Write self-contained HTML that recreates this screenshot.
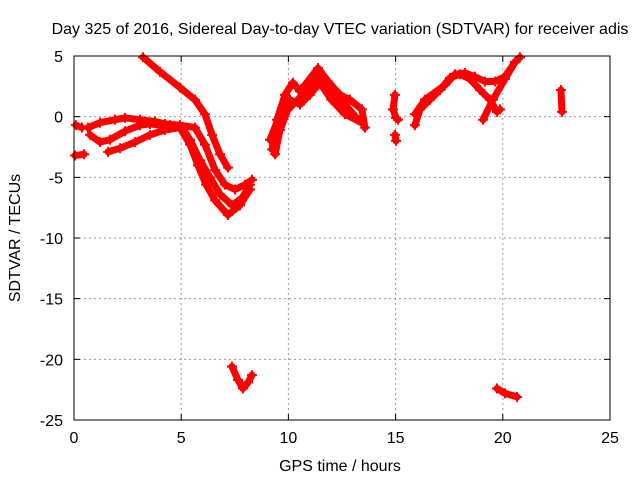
<!DOCTYPE html>
<html><head><meta charset="utf-8"><style>
body{margin:0;background:#fff}
svg{font-family:"Liberation Sans",Arial,sans-serif;font-size:16px}
</style></head><body>
<svg width="640" height="480">
<rect width="640" height="480" fill="#fff"/>
<text x="340" y="34" text-anchor="middle">Day 325 of 2016, Sidereal Day-to-day VTEC variation (SDTVAR) for receiver adis</text>
<text x="340" y="471" text-anchor="middle">GPS time / hours</text>
<text transform="translate(20,238) rotate(-90)" text-anchor="middle">SDTVAR / TECUs</text>
<g id="grid"></g>
<g id="ticks"></g>
<g id="series"></g>
<rect x="74" y="56" width="536" height="364" fill="none" stroke="#000" stroke-width="1"/>
</svg>
<script>
const xTicks=[0,5,10,15,20,25];
const yTicks=[5,0,-5,-10,-15,-20,-25];
const trackA=[[3.22,4.9],[4.01,3.7],[4.94,2.4],[5.64,1.4],[6.11,0.2],[6.44,-1.5],[6.81,-3.1],[7.18,-4.2]];
const trackB1=[[0.65,-0.9],[1.21,-0.5],[1.91,-0.25],[2.38,-0.1],[3.08,-0.25],[3.78,-0.4],[4.24,-0.6],[4.94,-0.7],[5.64,-0.9],[6.11,-2.3],[6.58,-4.4],[7.04,-5.6],[7.51,-6.0],[7.98,-5.6],[8.3,-5.2]];
const trackB2=[[0.75,-1.5],[1.21,-2.1],[1.68,-1.9],[2.38,-1.2],[3.08,-0.7],[3.54,-0.6],[4.01,-0.7],[4.48,-0.7],[5.04,-0.9],[5.41,-1.9],[5.88,-3.6],[6.34,-5.0],[6.81,-6.4],[7.37,-7.3],[7.84,-6.7],[8.21,-5.6]];
const trackB3=[[1.59,-2.9],[2.15,-2.6],[2.85,-2.1],[3.54,-1.5],[4.24,-1.1],[4.94,-0.9],[5.41,-2.3],[5.78,-4.0],[6.16,-5.6],[6.58,-6.9],[7.18,-8.1],[7.74,-7.3],[8.21,-6.0]];
const trackC=[[0.09,-0.7],[0.37,-0.9]];
const trackD=[[0.05,-3.2],[0.47,-3.1]];
const trackE=[[7.37,-20.6],[7.65,-21.7],[7.88,-22.4],[8.12,-21.9],[8.3,-21.3]];
const trackM1=[[9.24,-2.7],[9.47,-0.25],[9.84,1.8],[10.21,2.8],[10.54,2.1],[10.77,2.6],[11.38,4.0],[11.85,2.9],[12.41,1.8],[12.87,1.4],[13.43,0.6],[13.57,-0.9]];
const trackM2=[[9.38,-3.1],[9.61,-1.1],[9.98,0.6],[10.45,1.4],[11.0,2.4],[11.47,3.7],[11.94,2.2],[12.64,1.0],[13.25,-0.25]];
const trackM3=[[9.14,-1.9],[9.7,0.6],[10.07,1.4],[10.54,1.0],[11.0,1.8],[11.47,2.8],[12.0,1.4],[12.64,0.2],[13.43,-0.5]];
const trackS1=[[14.97,1.8],[14.88,0.6],[15.02,-0.1],[15.11,-0.25]];
const trackS2=[[14.97,-1.5],[15.02,-2.0]];
const trackR1=[[15.9,-0.7],[16.14,0.6],[16.6,1.4],[17.07,2.2],[17.54,3.2],[18.0,3.5],[18.47,3.1],[18.94,2.2],[19.4,1.4],[19.73,0.4],[19.87,0.6]];
const trackR2=[[15.9,0.2],[16.37,1.4],[17.3,2.6],[17.77,3.5],[18.24,3.6],[18.7,3.3],[19.17,2.9],[19.64,2.9],[20.1,3.3],[20.57,4.5]];
const trackR3=[[19.08,-0.25],[19.54,1.4],[20.1,3.1],[20.57,4.5],[20.8,4.9]];
const trackS3=[[22.71,2.2],[22.76,0.4]];
const trackF=[[19.73,-22.4],[20.1,-22.8],[20.66,-23.1]];
const tracks=[trackA,trackB1,trackB2,trackB3,trackC,trackD,trackE,trackM1,trackM2,trackM3,trackS1,trackS2,trackR1,trackR2,trackR3,trackS3,trackF];
const NS='http://www.w3.org/2000/svg';
const X0=74,X1=610,Y0=420,Y1=56;
function sx(t){return X0+(t-0)/(25-0)*(X1-X0);}
function sy(v){return Y0-(v+25)/(30)*(Y0-Y1);}
const grid=document.getElementById('grid'),ticks=document.getElementById('ticks'),ser=document.getElementById('series');
function mk(tag,attrs,parent){const e=document.createElementNS(NS,tag);for(const k in attrs)e.setAttribute(k,attrs[k]);parent.appendChild(e);return e;}
xTicks.forEach(t=>{
  const x=sx(t);
  if(t>0&&t<25){const g=mk('line',{x1:x,y1:Y0,x2:x,y2:Y1,stroke:'#999','stroke-dasharray':'2,3'},grid);
  
  }
  mk('line',{x1:x,y1:Y0,x2:x,y2:Y0-6,stroke:'#000'},ticks);
  mk('line',{x1:x,y1:Y1,x2:x,y2:Y1+6,stroke:'#000'},ticks);
  const l=mk('text',{x:x,y:Y0+23,'text-anchor':'middle'},ticks);l.textContent=t;
  
  
});
yTicks.forEach(v=>{
  const y=sy(v);
  if(v>-25&&v<5){const g=mk('line',{x1:X0,y1:y,x2:X1,y2:y,stroke:'#999','stroke-dasharray':'2,3'},grid);
  
  }
  mk('line',{x1:X0,y1:y,x2:X0+6,y2:y,stroke:'#000'},ticks);
  mk('line',{x1:X1,y1:y,x2:X1-6,y2:y,stroke:'#000'},ticks);
  const l=mk('text',{x:X0-11,y:y+6,'text-anchor':'end'},ticks);l.textContent=v;
  
  
});
tracks.forEach(tr=>{
  const pts=tr.map(p=>sx(p[0]).toFixed(1)+','+sy(p[1]).toFixed(1)).join(' ');
  const pl=mk('polyline',{points:pts,fill:'none',stroke:'#f00','stroke-width':7,'stroke-linejoin':'round','stroke-linecap':'round'},ser);
  
  
  tr.forEach(p=>{
    const x=sx(p[0]),y=sy(p[1]);
    const m=mk('path',{d:`M${x-5},${y}H${x+5}M${x},${y-5}V${y+5}`,stroke:'#f00','stroke-width':2},ser);
    
    
  });
});
</script>
</body></html>
